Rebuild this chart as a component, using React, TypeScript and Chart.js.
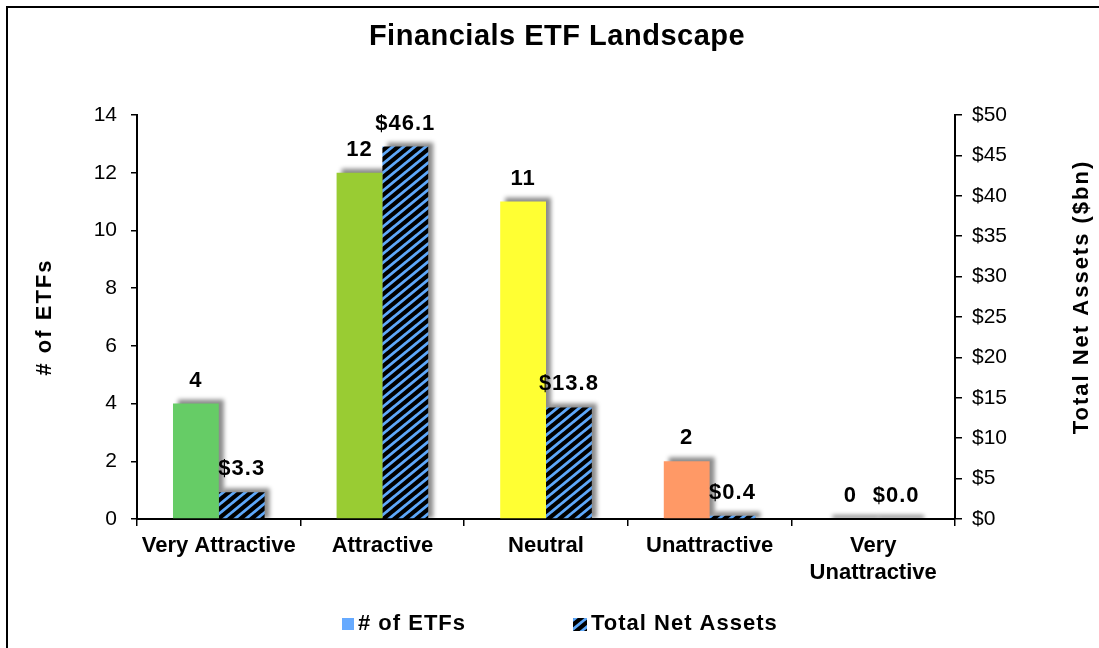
import React, { useEffect, useRef } from 'react';
import { Chart, registerables } from 'chart.js';

Chart.register(...registerables);

const categories: (string | string[])[] = ['Very Attractive', 'Attractive', 'Neutral', 'Unattractive', ['Very', 'Unattractive']];
const etfCounts = [4, 12, 11, 2, 0];
const netAssets = [3.3, 46.1, 13.8, 0.4, 0.0];
const countColors = ['#66CC66', '#99CC33', '#FFFF33', '#FF9966', '#FF3333'];
const seriesNames = ['# of ETFs', 'Total Net Assets'];
const chartTitle = 'Financials ETF Landscape';
const leftAxisTitle = '# of ETFs';
const rightAxisTitle = 'Total Net Assets ($bn)';
const leftAxisMax = 14;
const leftAxisStep = 2;
const rightAxisMax = 50;
const rightAxisStep = 5;

const FONT = '"Liberation Sans", Arial, Helvetica, sans-serif';
const W = 1099;
const H = 648;
const LEGEND_BLUE = '#66AAFF';

function makeHatch(): CanvasPattern | string {
  const pw = 11;
  const ph = 9;
  const c = document.createElement('canvas');
  c.width = pw;
  c.height = ph;
  const g = c.getContext('2d');
  if (!g) return '#000';
  g.fillStyle = '#000';
  g.fillRect(0, 0, pw, ph);
  g.strokeStyle = '#5EA8FA';
  g.lineWidth = 2.8;
  g.beginPath();
  for (let k = -1; k <= 1; k++) {
    g.moveTo(k * pw - 1.2, ph + 1);
    g.lineTo(k * pw + pw + 1.2, -1);
  }
  g.stroke();
  return g.createPattern(c, 'repeat') || '#000';
}

export default function App() {
  const ref = useRef<HTMLCanvasElement | null>(null);

  useEffect(() => {
    const canvas = ref.current;
    if (!canvas) return;
    const hatch = makeHatch();

    const framePlugin = {
      id: 'frame',
      beforeDraw(chart: any) {
        const ctx = chart.ctx;
        ctx.save();
        ctx.fillStyle = '#fff';
        ctx.fillRect(0, 0, W, H);
        ctx.strokeStyle = '#000';
        ctx.lineWidth = 2;
        ctx.strokeRect(7, 7, W + 20, H + 20);
        ctx.restore();
      },
    };

    const shadowPlugin = {
      id: 'barShadow',
      beforeDatasetsDraw(chart: any) {
        const ctx = chart.ctx;
        const area = chart.chartArea;
        ctx.save();
        ctx.beginPath();
        ctx.rect(area.left, area.top - 30, area.right - area.left, area.bottom - area.top + 29);
        ctx.clip();
        ctx.filter = 'blur(2px)';
        ctx.fillStyle = 'rgba(0,0,0,0.45)';
        chart.data.datasets.forEach((_ds: any, i: number) => {
          const meta = chart.getDatasetMeta(i);
          meta.data.forEach((bar: any) => {
            const p = bar.getProps(['x', 'y', 'base', 'width'], true);
            const left = p.x - p.width / 2 + 5;
            const top = Math.min(p.y, p.base) - 4;
            ctx.fillRect(left, top, p.width, p.base - top);
          });
        });
        ctx.restore();
      },
    };

    const labelPlugin = {
      id: 'valueLabels',
      afterDatasetsDraw(chart: any) {
        const ctx = chart.ctx;
        ctx.save();
        ctx.font = `bold 22px ${FONT}`;
        ctx.fillStyle = '#000';
        ctx.textAlign = 'center';
        ctx.textBaseline = 'alphabetic';
        (ctx as any).letterSpacing = '1px';
        chart.data.datasets.forEach((ds: any, i: number) => {
          const meta = chart.getDatasetMeta(i);
          meta.data.forEach((bar: any, j: number) => {
            const v = ds.data[j];
            const txt = i === 0 ? String(v) : '$' + Number(v).toFixed(1);
            const p = bar.getProps(['x', 'y'], true);
            ctx.fillText(txt, p.x, p.y - 17);
          });
        });
        ctx.restore();
      },
    };

    const textPlugin = {
      id: 'texts',
      afterDraw(chart: any) {
        const ctx = chart.ctx;
        const area = chart.chartArea;
        ctx.save();
        ctx.fillStyle = '#000';
        // Title
        ctx.font = `bold 29px ${FONT}`;
        (ctx as any).letterSpacing = '0.5px';
        ctx.textAlign = 'center';
        ctx.textBaseline = 'alphabetic';
        ctx.fillText(chartTitle, 557, 45);

        // Axis titles
        (ctx as any).letterSpacing = '2px';
        ctx.font = `bold 22px ${FONT}`;
        ctx.textBaseline = 'middle';
        const midY = (area.top + area.bottom) / 2;
        ctx.save();
        ctx.translate(45, midY);
        ctx.rotate(-Math.PI / 2);
        ctx.fillText(leftAxisTitle, 0, 0);
        ctx.restore();
        ctx.save();
        ctx.translate(1082, midY - 20);
        ctx.rotate(-Math.PI / 2);
        ctx.fillText(rightAxisTitle, 0, 0);
        ctx.restore();

        // Legend
        (ctx as any).letterSpacing = '1px';
        ctx.font = `bold 22px ${FONT}`;
        ctx.textAlign = 'left';
        ctx.textBaseline = 'alphabetic';
        ctx.fillStyle = LEGEND_BLUE;
        ctx.fillRect(342, 618, 12, 12);
        ctx.fillStyle = '#000';
        ctx.fillText(seriesNames[0], 358, 630);
        ctx.fillStyle = hatch as any;
        ctx.fillRect(573, 618, 14, 13);
        ctx.fillStyle = '#000';
        ctx.fillText(seriesNames[1], 591, 630);
        ctx.restore();
      },
    };

    const chart = new Chart(canvas, {
      type: 'bar',
      data: {
        labels: categories as any,
        datasets: [
          {
            label: seriesNames[0],
            data: etfCounts,
            backgroundColor: countColors,
            yAxisID: 'y',
            categoryPercentage: 0.56,
            barPercentage: 1,
            borderWidth: 0,
          },
          {
            label: seriesNames[1],
            data: netAssets,
            backgroundColor: hatch as any,
            yAxisID: 'y1',
            categoryPercentage: 0.56,
            barPercentage: 1,
            borderWidth: 0,
          },
        ],
      },
      options: {
        responsive: false,
        animation: false,
        events: [],
        layout: { padding: { top: 115, left: 0, right: 0, bottom: 0 } },
        plugins: {
          legend: { display: false },
          title: { display: false },
          tooltip: { enabled: false },
        },
        scales: {
          x: {
            offset: true,
            grid: { drawOnChartArea: false, tickLength: 7, color: '#000', lineWidth: 1.5, offset: true },
            border: { color: '#000', width: 2 },
            ticks: {
              color: '#000',
              font: { family: FONT, size: 22, weight: 'bold', lineHeight: 1.25 },
              padding: 6,
              maxRotation: 0,
              autoSkip: false,
            },
            afterFit: (s: any) => {
              s.height = H - 519;
            },
          },
          y: {
            position: 'left',
            min: 0,
            max: leftAxisMax,
            grid: { drawOnChartArea: false, tickLength: 6, color: '#000', lineWidth: 1.5 },
            border: { color: '#000', width: 2 },
            ticks: {
              stepSize: leftAxisStep,
              color: '#000',
              font: { family: FONT, size: 21 },
              padding: 14,
            },
            afterFit: (s: any) => {
              s.width = 137;
            },
          },
          y1: {
            position: 'right',
            min: 0,
            max: rightAxisMax,
            grid: { drawOnChartArea: false, tickLength: 7, color: '#000', lineWidth: 1.5 },
            border: { color: '#000', width: 2 },
            ticks: {
              stepSize: rightAxisStep,
              color: '#000',
              font: { family: FONT, size: 21 },
              padding: 10,
              callback: (v: any) => '$' + v,
            },
            afterFit: (s: any) => {
              s.width = W - 955;
            },
          },
        },
      } as any,
      plugins: [framePlugin, shadowPlugin, labelPlugin, textPlugin],
    });

    return () => chart.destroy();
  }, []);

  return (
    <div style={{ position: 'absolute', left: 0, top: 0, width: W, height: H, overflow: 'hidden' }}>
      <canvas ref={ref} width={W} height={H} style={{ display: 'block' }} />
    </div>
  );
}
